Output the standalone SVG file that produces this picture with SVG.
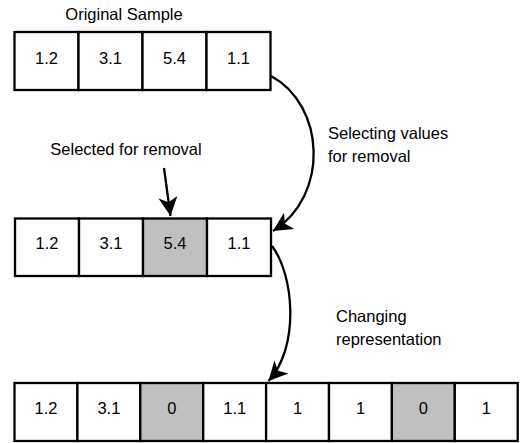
<svg xmlns="http://www.w3.org/2000/svg" width="532" height="443" viewBox="0 0 532 443">
<style>
.b{fill:#fff;stroke:#000;stroke-width:2.3}
.g{fill:#c0c0c0;stroke:#000;stroke-width:2.3}
.t{font-family:"Liberation Sans",Arial,sans-serif;font-size:16.5px;fill:#000}
.m{text-anchor:middle}
.c{fill:none;stroke:#000;stroke-width:2.3}
</style>
<defs>
<marker id="ah" markerUnits="userSpaceOnUse" viewBox="-20 -11 21 22" refX="0" refY="0" markerWidth="21" markerHeight="22" orient="auto">
<path d="M0,0 L-19,-9.5 L-14,0 L-19,9.5 Z" fill="#000"/>
</marker>
</defs>
<rect width="532" height="443" fill="#fff"/>
<text class="t m" x="124" y="19.5">Original Sample</text>
<text class="t m" x="126" y="155">Selected for removal</text>
<text class="t" x="328" y="138.5">Selecting values</text>
<text class="t" x="328" y="162">for removal</text>
<text class="t" x="336" y="321.5">Changing</text>
<text class="t" x="336" y="345">representation</text>

<g id="row1">
<g id="r1c1"><rect class="b" x="14.5" y="32" width="64" height="58"/><text class="t m" x="46.5" y="64">1.2</text></g>
<g id="r1c2"><rect class="b" x="78.5" y="32" width="64" height="58"/><text class="t m" x="110.5" y="64">3.1</text></g>
<g id="r1c3"><rect class="b" x="142.5" y="32" width="64" height="58"/><text class="t m" x="174.5" y="64">5.4</text></g>
<g id="r1c4"><rect class="b" x="206.5" y="32" width="64" height="58"/><text class="t m" x="238.5" y="64">1.1</text></g>
</g>
<g id="row2">
<g id="r2c1"><rect class="b" x="15" y="218.5" width="64" height="57.5"/><text class="t m" x="47" y="248.5">1.2</text></g>
<g id="r2c2"><rect class="b" x="79" y="218.5" width="64" height="57.5"/><text class="t m" x="111" y="248.5">3.1</text></g>
<g id="r2c3"><rect class="g" x="143" y="218.5" width="64" height="57.5"/><text class="t m" x="175" y="248.5">5.4</text></g>
<g id="r2c4"><rect class="b" x="207" y="218.5" width="64" height="57.5"/><text class="t m" x="239" y="248.5">1.1</text></g>
</g>
<g id="row3">
<g id="r3c1"><rect class="b" x="14.5" y="383" width="62.9" height="58"/><text class="t m" x="46" y="414">1.2</text></g>
<g id="r3c2"><rect class="b" x="77.4" y="383" width="62.9" height="58"/><text class="t m" x="108.9" y="414">3.1</text></g>
<g id="r3c3"><rect class="g" x="140.3" y="383" width="62.9" height="58"/><text class="t m" x="171.8" y="414">0</text></g>
<g id="r3c4"><rect class="b" x="203.2" y="383" width="62.9" height="58"/><text class="t m" x="234.7" y="414">1.1</text></g>
<g id="r3c5"><rect class="b" x="266.1" y="383" width="62.9" height="58"/><text class="t m" x="297.6" y="414">1</text></g>
<g id="r3c6"><rect class="b" x="329" y="383" width="62.9" height="58"/><text class="t m" x="360.5" y="414">1</text></g>
<g id="r3c7"><rect class="g" x="391.9" y="383" width="62.9" height="58"/><text class="t m" x="423.4" y="414">0</text></g>
<g id="r3c8"><rect class="b" x="454.8" y="383" width="62.9" height="58"/><text class="t m" x="486.3" y="414">1</text></g>
</g>
<g id="connectors">
<path class="c" d="M271,76 C325,105 330,195 273,231" marker-end="url(#ah)"/>
<path class="c" d="M272,246 C294,275 300,347 268.5,381" marker-end="url(#ah)"/>
<path class="c" d="M164,168 L170.5,216" marker-end="url(#ah)"/>
</g>
</svg>
